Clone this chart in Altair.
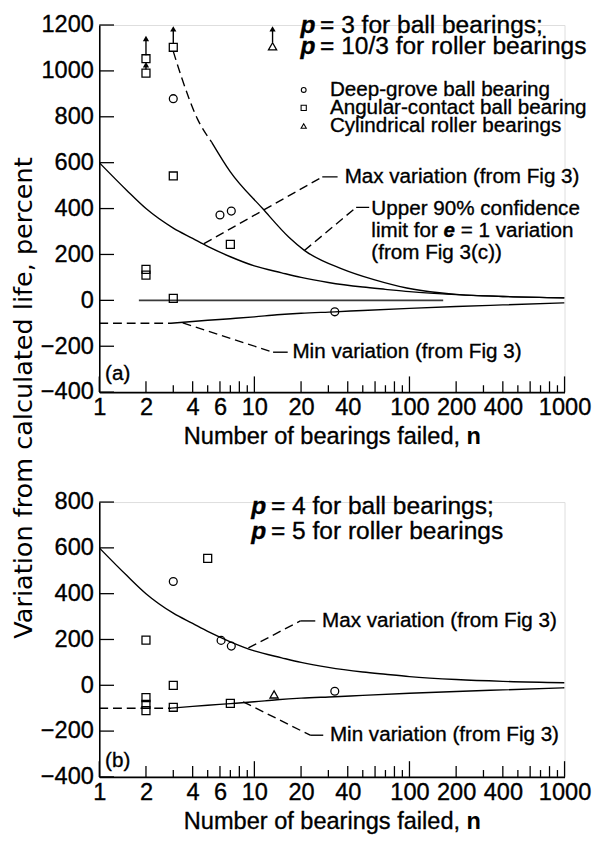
import altair as alt
import pandas as pd

FONT = "Liberation Sans"
TITLE_FONT = "DejaVu Sans"
W = 474
H_A = 374
H_B = 280

X_DOMAIN = [1, 1000]
YA_DOMAIN = [-400, 1200]
YB_DOMAIN = [-400, 800]

X_LABELS = [1, 2, 4, 6, 10, 20, 40, 100, 200, 400, 1000]
X_TICKS_MAJOR = [1, 10, 100, 1000]
X_TICKS_EVEN = [2, 4, 6, 8, 20, 40, 60, 80, 200, 400, 600, 800]
X_TICKS_ODD = [3, 5, 7, 9, 30, 50, 70, 90, 300, 500, 700, 900]
YA_TICKS = [-400, -200, 0, 200, 400, 600, 800, 1000, 1200]
YB_TICKS = [-400, -200, 0, 200, 400, 600, 800]

# ---- curves (shared "Fig 3" bounds) ----
MAX_N = [1, 1.5, 2, 3, 4, 5, 7, 10, 15, 20, 30, 50, 70, 100, 200, 400, 1000]
MAX_V = [600, 480, 400, 315, 270, 235, 190, 150, 120, 100, 78, 58, 48, 38, 25, 17, 11]
MIN_DASH_N = [1, 2.9]
MIN_DASH_V = [-100, -100]
MIN_N = [2.9, 4, 5, 7, 10, 14, 20, 33, 50, 100, 200, 400, 1000]
MIN_V = [-100, -92, -87, -80, -72, -63, -56, -50, -44, -35, -27, -20, -11]
# upper 90% confidence limit, panel (a)
UP_DASH_N = [3.0, 3.4, 4.3, 5.3]
UP_DASH_V = [1085, 970, 790, 690]
UP_N = [5.3, 7, 11.3, 16.7, 21, 37, 59, 96, 156, 210, 400, 1000]
UP_V = [690, 560, 400, 275, 218, 136, 90, 54, 33, 25, 17, 11]
ZERO_N = [1.8, 165]
ZERO_V = [0, 0]

# ---- data points panel (a) ----
A_CIRCLE_N = [3, 6, 7.1, 33]
A_CIRCLE_V = [879, 372, 389, -50]
A_SQUARE_N = [2, 2, 3, 3, 7, 2, 2, 3]
A_SQUARE_V = [1053, 990, 1103, 542, 244, 135, 110, 9]
A_TRI_N = [13.1]
A_TRI_V = [1107]
A_ARROW_N = [2, 2, 3, 13.1]
A_ARROW_FROM = [1068, 1006, 1118, 1124]
A_ARROW_HEAD = [1141, 1027, 1183, 1183]

# ---- data points panel (b) ----
B_CIRCLE_N = [3, 6.1, 7.1, 33]
B_CIRCLE_V = [453, 196, 171, -26]
B_SQUARE_N = [2, 5, 3, 2, 2, 2, 3, 7]
B_SQUARE_V = [197, 554, 0, -54, -83, -111, -96, -79]
B_TRI_N = [13.4]
B_TRI_V = [-40]

# ---- leaders ----
A_LEAD_DASH = [
    ("a1", [4.73, 27.4], [247, 538]),
    ("a2", [21, 45.3], [217, 405]),
    ("a3", [3.45, 13.2], [-98, -226]),
]
A_LEAD_SOLID = [
    ("s1", [27.4, 34.4], [538, 538]),
    ("s2", [45.3, 55.0], [405, 405]),
    ("s3", [13.2, 16.4], [-226, -226]),
]
B_LEAD_DASH = [
    ("b1", [9.15, 19.8], [163, 281]),
    ("b2", [8.46, 22.9], [-72, -218]),
]
B_LEAD_SOLID = [
    ("t1", [19.8, 24.7], [281, 281]),
    ("t2", [22.9, 27.8], [-218, -218]),
]

# ---- texts ----
A_P_N = [19.8, 19.8]
A_P_V = [1200, 1110]
A_P_REST = ["= 3 for ball bearings;", "= 10/3 for roller bearings"]
B_P_N = [9.55, 9.55]
B_P_V = [780, 673]
B_P_REST = ["= 4 for ball bearings;", "= 5 for roller bearings"]

LEG_SYM_N = 20.8
LEG_TEXT_N = 30.7
LEG_V = [917, 839, 760]
LEG_TEXT = ["Deep-grove ball bearing", "Angular-contact ball bearing", "Cylindrical roller bearings"]

A_ANN_N = [38.2, 56.8, 56.8, 56.8, 17.6]
A_ANN_V = [538, 396, 302, 204, -226]
A_ANN_T = ["Max variation (from Fig 3)", "Upper 90% confidence", "limit for",
           "(from Fig 3(c))", "Min variation (from Fig 3)"]
B_ANN_N = [27.3, 30.7]
B_ANN_V = [281, -218]
B_ANN_T = ["Max variation (from Fig 3)", "Min variation (from Fig 3)"]

X_TITLE = "Number of bearings failed,"
Y_TITLE = "Variation from calculated life, percent"

TXT_STROKE = 0.35


def xenc(field="n"):
    return alt.X(f"{field}:Q",
                 scale=alt.Scale(type="log", domain=X_DOMAIN, nice=False),
                 axis=alt.Axis(values=X_LABELS, format="d", title=None, ticks=False, grid=False,
                               tickSize=0, domainColor="black", domainWidth=1.6,
                               labelFont=FONT, labelFontSize=24, labelColor="black",
                               labelPadding=4, labelOverlap=False, labelFlush=False))


def yenc(panel, field="v"):
    dom = YA_DOMAIN if panel == "a" else YB_DOMAIN
    vals = YA_TICKS if panel == "a" else YB_TICKS
    return alt.Y(f"{field}:Q",
                 scale=alt.Scale(domain=dom, nice=False, zero=False),
                 axis=alt.Axis(values=vals, format="d", title=None, ticks=False, grid=False,
                               tickSize=0, domainColor="black", domainWidth=1.6,
                               labelFont=FONT, labelFontSize=24, labelColor="black",
                               labelPadding=6, labelOverlap=False, labelFlush=False))


def lines_df(items):
    frames = []
    for name, ns, vs in items:
        frames.append(pd.DataFrame({"n": ns, "v": vs, "seg": name, "ord": list(range(len(ns)))}))
    return pd.concat(frames, ignore_index=True)


def line_layer(items, panel, dash=None, color="black", width=1.4):
    kw = dict(color=color, strokeWidth=width, interpolate="monotone", clip=True)
    if dash:
        kw["strokeDash"] = dash
    return alt.Chart(lines_df(items)).mark_line(**kw).encode(
        x=xenc(), y=yenc(panel), detail="seg:N", order="ord:Q")


def point_layer(ns, vs, panel, shape, size, filled=False, sw=1.3):
    df = pd.DataFrame({"n": ns, "v": vs})
    if filled:
        m = alt.Chart(df).mark_point(shape=shape, size=size, filled=True, color="black", opacity=1)
    else:
        m = alt.Chart(df).mark_point(shape=shape, size=size, filled=False, color="black",
                                     strokeWidth=sw, opacity=1)
    return m.encode(x=xenc(), y=yenc(panel))


def text_layer(ns, vs, labels, panel, size, weight="normal", style="normal", dx=0):
    df = pd.DataFrame({"n": ns, "v": vs, "t": labels})
    return alt.Chart(df).mark_text(align="left", baseline="middle", dx=dx, font=FONT,
                                   fontSize=size, fontWeight=weight, fontStyle=style,
                                   color="black", stroke="black", strokeWidth=TXT_STROKE
                                   ).encode(x=xenc(), y=yenc(panel), text="t:N")


def xtick_layer(vals, length, panel, H):
    df = pd.DataFrame({"n": vals})
    return alt.Chart(df).mark_rule(color="black", strokeWidth=1.3).encode(
        x=xenc(), y=alt.value(H), y2=alt.value(H - length))


def ytick_layer(vals, panel):
    df = pd.DataFrame({"v": vals})
    return alt.Chart(df).mark_rule(color="black", strokeWidth=1.3).encode(
        x=alt.value(0), x2=alt.value(15), y=yenc(panel))


def xtitle_layers(H):
    df1 = pd.DataFrame({"t": [X_TITLE]})
    df2 = pd.DataFrame({"t": ["n"]})
    t1 = alt.Chart(df1).mark_text(align="right", baseline="middle", font=FONT, fontSize=24,
                                  color="black", stroke="black", strokeWidth=TXT_STROKE
                                  ).encode(x=alt.value(367.5), y=alt.value(H + 46), text="t:N")
    t2 = alt.Chart(df2).mark_text(align="left", baseline="middle", font=FONT, fontSize=24,
                                  fontWeight="bold", color="black").encode(
        x=alt.value(374), y=alt.value(H + 46), text="t:N")
    return [t1, t2]


def common_ticks(panel, H):
    return [xtick_layer(X_TICKS_MAJOR, 16, panel, H),
            xtick_layer(X_TICKS_EVEN, 11, panel, H),
            xtick_layer(X_TICKS_ODD, 7, panel, H),
            ytick_layer(YA_TICKS if panel == "a" else YB_TICKS, panel)]


# ---------------- panel (a) ----------------
arrows_a = pd.DataFrame({"n": A_ARROW_N, "v": A_ARROW_FROM, "v2": A_ARROW_HEAD})
layers_a = common_ticks("a", H_A) + [
    line_layer([("max", MAX_N, MAX_V), ("min", MIN_N, MIN_V), ("up", UP_N, UP_V)] + A_LEAD_SOLID, "a"),
    line_layer([("mind", MIN_DASH_N, MIN_DASH_V), ("upd", UP_DASH_N, UP_DASH_V)] + A_LEAD_DASH, "a",
               dash=[9, 5]),
    line_layer([("zero", ZERO_N, ZERO_V)], "a", color="#3a3a3a", width=1.8),
    alt.Chart(arrows_a).mark_rule(color="black", strokeWidth=1.4).encode(
        x=xenc(), y=yenc("a"), y2=alt.Y2("v2")),
    point_layer(A_ARROW_N, A_ARROW_HEAD, "a", "triangle-up", 40, filled=True),
    point_layer(A_CIRCLE_N, A_CIRCLE_V, "a", "circle", 64),
    point_layer(A_SQUARE_N, A_SQUARE_V, "a", "square", 66),
    point_layer(A_TRI_N, A_TRI_V, "a", "triangle-up", 70),
    point_layer([LEG_SYM_N], [LEG_V[0]], "a", "circle", 24, sw=1.1),
    point_layer([LEG_SYM_N], [LEG_V[1]], "a", "square", 28, sw=1.1),
    point_layer([LEG_SYM_N], [LEG_V[2]], "a", "triangle-up", 28, sw=1.1),
    text_layer(A_P_N, A_P_V, ["p", "p"], "a", 25, weight="bold", style="italic"),
    text_layer(A_P_N, A_P_V, A_P_REST, "a", 25, dx=20),
    text_layer([LEG_TEXT_N] * 3, LEG_V, LEG_TEXT, "a", 21),
    text_layer(A_ANN_N, A_ANN_V, A_ANN_T, "a", 21),
    text_layer([56.8], [302], ["e"], "a", 21, weight="bold", style="italic", dx=73.5),
    text_layer([56.8], [302], ["= 1 variation"], "a", 21, dx=91),
    text_layer([1.09], [-322], ["(a)"], "a", 21),
    alt.Chart(pd.DataFrame({"t": [Y_TITLE]})).mark_text(
        align="center", baseline="middle", angle=270, font=TITLE_FONT, fontSize=26, color="black"
    ).encode(x=alt.value(-77), y=alt.value(380), text="t:N"),
] + xtitle_layers(H_A)

top = alt.layer(*layers_a).properties(width=W, height=H_A)

# ---------------- panel (b) ----------------
layers_b = common_ticks("b", H_B) + [
    line_layer([("max", MAX_N, MAX_V), ("min", MIN_N, MIN_V)] + B_LEAD_SOLID, "b"),
    line_layer([("mind", MIN_DASH_N, MIN_DASH_V)] + B_LEAD_DASH, "b", dash=[9, 5]),
    point_layer(B_CIRCLE_N, B_CIRCLE_V, "b", "circle", 64),
    point_layer(B_SQUARE_N, B_SQUARE_V, "b", "square", 66),
    point_layer(B_TRI_N, B_TRI_V, "b", "triangle-up", 70),
    text_layer(B_P_N, B_P_V, ["p", "p"], "b", 25, weight="bold", style="italic"),
    text_layer(B_P_N, B_P_V, B_P_REST, "b", 25, dx=20),
    text_layer(B_ANN_N, B_ANN_V, B_ANN_T, "b", 21),
    text_layer([1.09], [-330], ["(b)"], "b", 21),
] + xtitle_layers(H_B)

bottom = alt.layer(*layers_b).properties(width=W, height=H_B)

chart = alt.vconcat(top, bottom, spacing=112, bounds="flush").properties(
    padding={"left": 2, "top": -3.5, "right": 2, "bottom": 0}
).configure_view(strokeWidth=0).configure(
    font=FONT,
    style={"guide-label": {"stroke": "black", "strokeWidth": TXT_STROKE}},
)

chart.save("out.html", embed_options={"renderer": "svg", "actions": False})
